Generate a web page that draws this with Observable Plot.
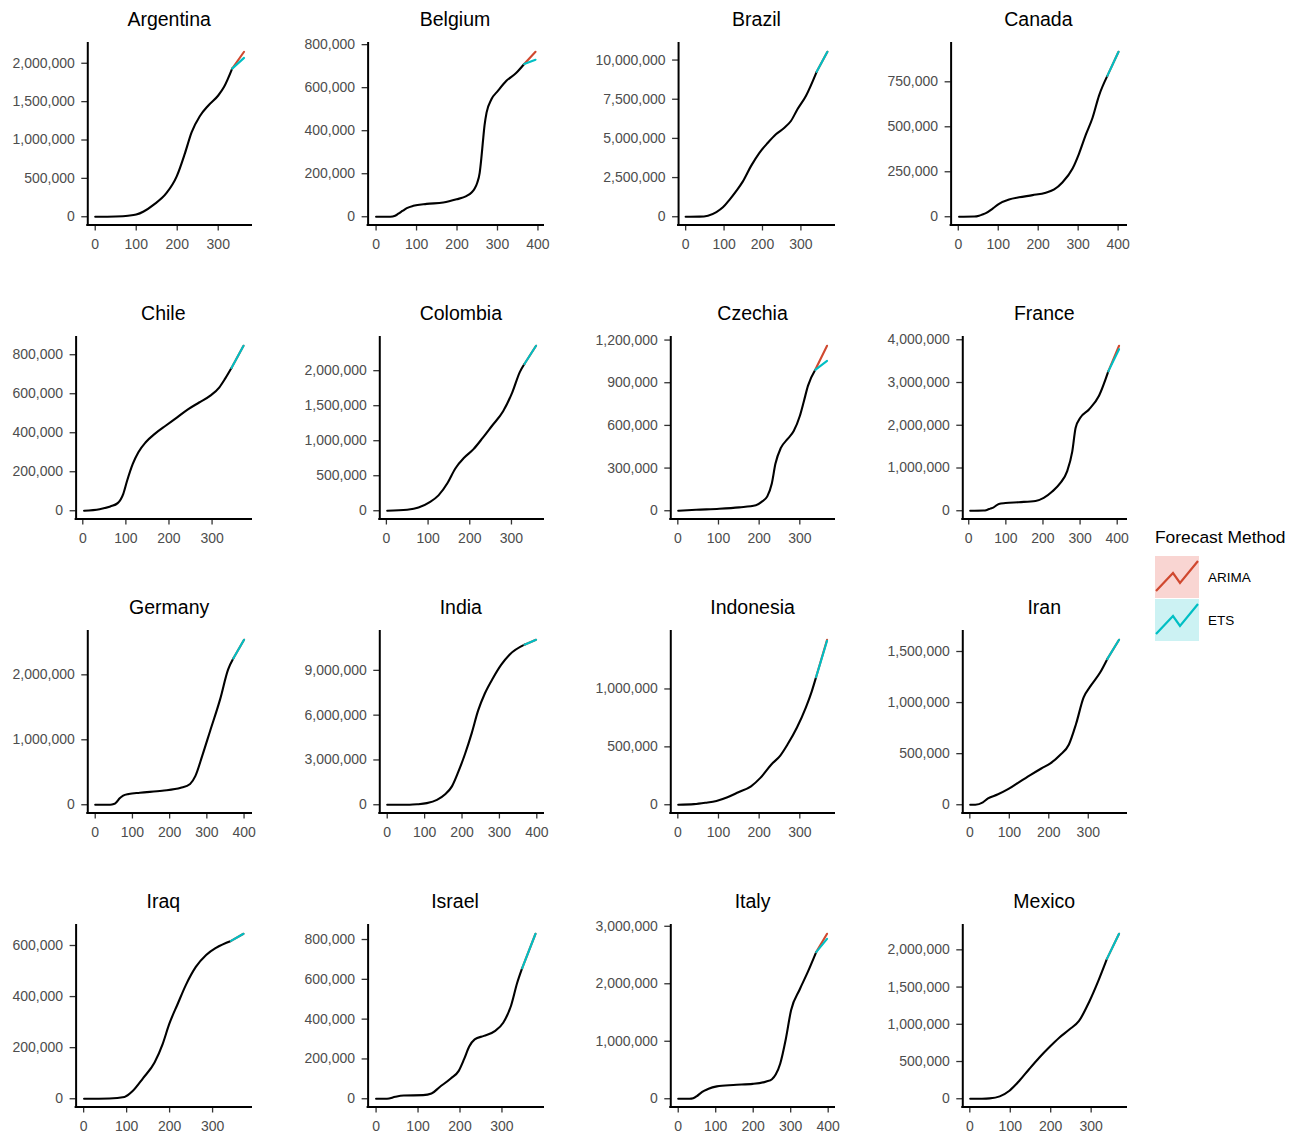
<!DOCTYPE html>
<html><head><meta charset="utf-8">
<script src="https://cdn.jsdelivr.net/npm/d3@7"></script>
<script src="https://cdn.jsdelivr.net/npm/@observablehq/plot@0.6"></script>
<style>
body{margin:0;background:#fff;font-family:Arial,"Liberation Sans",sans-serif;}
#root{position:relative;width:1303px;height:1133px;overflow:hidden;background:#fff;}
.panel{position:absolute;}
.ptitle{position:absolute;font-size:19.5px;color:#000;white-space:nowrap;transform:translate(-50%,-50%);line-height:1;}
.legend{position:absolute;left:1155px;top:529px;font-family:Arial,"Liberation Sans",sans-serif;}
.legend .lt{font-size:17.4px;color:#000;line-height:1;margin-bottom:9px;white-space:nowrap;}
.legend .row{display:flex;align-items:center;height:43.5px;}
.legend .row span{font-size:13.5px;color:#000;margin-left:9px;}
</style></head><body><div id="root"></div>
<script>
const countries = ["Argentina","Belgium","Brazil","Canada","Chile","Colombia","Czechia","France","Germany","India","Indonesia","Iran","Iraq","Israel","Italy","Mexico"];

const argentinaDay   = [0, 50, 80, 100, 118, 142, 174, 199, 219, 235, 255, 276, 300, 314, 334];
const argentinaCases = [0, 4000, 13000, 28000, 68000, 155000, 310000, 530000, 830000, 1100000, 1310000, 1450000, 1580000, 1690000, 1930000];

const belgiumDay   = [0, 35, 47, 55, 66, 76, 92, 125, 166, 199, 223, 236, 244, 250, 256, 260, 264, 268, 273, 285, 301, 322, 346, 366];
const belgiumCases = [0, 0, 4700, 14000, 28000, 40000, 51000, 60000, 66000, 81000, 96000, 113000, 132000, 158000, 204000, 270000, 350000, 425000, 484000, 546000, 585000, 632000, 668000, 710000];

const brazilDay   = [0, 36, 58, 80, 97, 114, 131, 149, 170, 192, 214, 235, 257, 274, 291, 313, 341];
const brazilCases = [0, 10000, 70000, 300000, 600000, 1080000, 1620000, 2260000, 3230000, 4080000, 4720000, 5260000, 5680000, 6110000, 6860000, 7710000, 9250000];

const canadaDay   = [2, 40, 52, 60, 69, 86, 102, 127, 152, 186, 219, 240, 261, 286, 302, 319, 336, 352, 373];
const canadaCases = [0, 1000, 5600, 12000, 20000, 45000, 72000, 96000, 108000, 120000, 134000, 152000, 192000, 268000, 350000, 455000, 550000, 672000, 783000];

const chileDay   = [3, 39, 64, 81, 94, 103, 116, 129, 146, 167, 193, 219, 244, 270, 296, 317, 330, 345];
const chileCases = [0, 8000, 22000, 39000, 87000, 155000, 240000, 300000, 351000, 394000, 437000, 479000, 520000, 555000, 590000, 633000, 676000, 732000];

const colombiaDay   = [2, 50, 77, 103, 125, 147, 165, 187, 209, 231, 253, 280, 302, 320, 331];
const colombiaCases = [0, 15000, 45000, 120000, 220000, 400000, 600000, 760000, 880000, 1040000, 1210000, 1420000, 1690000, 1980000, 2095000];

const czechiaDay   = [1, 45, 102, 151, 192, 206, 220, 231, 240, 253, 269, 285, 300, 310, 320, 338];
const czechiaCases = [0, 7000, 14000, 24000, 38000, 62000, 101000, 190000, 330000, 440000, 501000, 560000, 666000, 770000, 878000, 991000];

const franceDay   = [4, 40, 49, 58, 67, 81, 99, 135, 180, 202, 225, 247, 265, 279, 288, 301, 324, 351, 376];
const franceCases = [0, 5000, 20000, 50000, 80000, 160000, 180000, 200000, 230000, 300000, 450000, 650000, 920000, 1390000, 1940000, 2180000, 2370000, 2690000, 3260000];

const germanyDay   = [0, 40, 50, 57, 65, 75, 90, 120, 180, 230, 255, 269, 288, 309, 336, 357, 371];
const germanyCases = [0, 0, 10000, 40000, 95000, 140000, 165000, 185000, 215000, 260000, 320000, 440000, 760000, 1140000, 1630000, 2080000, 2250000];

const indiaDay   = [0, 60, 80, 106, 133, 155, 173, 190, 208, 226, 243, 261, 283, 305, 327, 367];
const indiaCases = [0, 1000, 30000, 110000, 330000, 700000, 1230000, 2200000, 3400000, 4800000, 6300000, 7450000, 8490000, 9380000, 10050000, 10720000];

const indonesiaDay   = [1, 40, 68, 95, 122, 149, 180, 203, 230, 252, 270, 293, 315, 329, 340];
const indonesiaCases = [0, 5000, 17000, 33000, 65000, 108000, 159000, 232000, 348000, 425000, 522000, 667000, 841000, 975000, 1102000];

const iranDay   = [1, 14, 33, 46, 70, 98, 125, 153, 181, 204, 228, 251, 269, 288, 306, 330, 348];
const iranCases = [0, 0, 23000, 62000, 100000, 155000, 222000, 290000, 355000, 405000, 485000, 590000, 790000, 1048000, 1163000, 1294000, 1425000];

const iraqDay   = [1, 60, 95, 114, 138, 165, 184, 199, 219, 238, 261, 285, 308, 343];
const iraqCases = [0, 1000, 7000, 30000, 80000, 142000, 215000, 292000, 372000, 446000, 516000, 563000, 591000, 618000];

const israelDay   = [0, 26, 46, 66, 112, 132, 151, 178, 197, 210, 222, 235, 257, 283, 303, 322, 336, 348];
const israelCases = [0, 0, 10000, 16000, 18000, 26000, 58000, 102000, 140000, 200000, 262000, 298000, 316000, 340000, 382000, 470000, 580000, 655000];

const italyDay   = [0, 30, 40, 50, 59, 70, 81, 103, 147, 199, 235, 250, 260, 272, 287, 301, 324, 346, 368];
const italyCases = [0, 1000, 10000, 47000, 95000, 140000, 175000, 215000, 240000, 258000, 300000, 340000, 420000, 610000, 1040000, 1540000, 1900000, 2210000, 2550000];

const mexicoDay   = [1, 30, 49, 74, 98, 123, 147, 172, 197, 221, 246, 270, 295, 319, 339];
const mexicoCases = [0, 1000, 5000, 32000, 108000, 245000, 400000, 555000, 695000, 820000, 930000, 1045000, 1300000, 1600000, 1878000];

// forecast horizon end (day) and forecast values at that day
const forecastEndDay = [363, 394, 369, 401, 373, 359, 367, 405, 400, 398, 367, 378, 372, 380, 397, 369];
const arimaEnd = [2150000, 767000, 10530000, 917000, 846000, 2356000, 1160000, 3860000, 2540000, 11050000, 1425000, 1615000, 646000, 829000, 2870000, 2216000];
const etsEnd   = [2070000, 730000, 10530000, 917000, 846000, 2356000, 1054000, 3780000, 2540000, 11050000, 1416000, 1615000, 646000, 829000, 2780000, 2216000];

// y-axis tick step per panel
const yTickStep = [500000, 200000, 2500000, 250000, 200000, 500000, 300000, 1000000, 1000000, 3000000, 500000, 500000, 200000, 200000, 1000000, 500000];
const xTickValues = [0, 100, 200, 300, 400];

const seriesDays  = [argentinaDay, belgiumDay, brazilDay, canadaDay, chileDay, colombiaDay, czechiaDay, franceDay, germanyDay, indiaDay, indonesiaDay, iranDay, iraqDay, israelDay, italyDay, mexicoDay];
const seriesCases = [argentinaCases, belgiumCases, brazilCases, canadaCases, chileCases, colombiaCases, czechiaCases, franceCases, germanyCases, indiaCases, indonesiaCases, iranCases, iraqCases, israelCases, italyCases, mexicoCases];

const ARIMA_COLOR = "#D0482F";
const ETS_COLOR = "#00BFC4";
const FONT = "Arial, 'Liberation Sans', sans-serif";

const root = document.getElementById("root");
const ctx = document.createElement("canvas").getContext("2d");
ctx.font = "14px " + FONT;
const fmt = d3.format(",");

const cellW = 291.7, rowPitch = 293.9, axisY0 = 224.8, plotH = 181.5, axisRight = 251;
const mTop = 10, mBottom = 34;

countries.forEach((name, i) => {
  const c = i % 4, r = Math.floor(i / 4);
  const days = seriesDays[i], cases = seriesCases[i];
  const hist = days.map((d, k) => ({day: d, cases: cases[k]}));
  const last = hist[hist.length - 1];
  const arima = [last, {day: forecastEndDay[i], cases: arimaEnd[i]}];
  const ets = [last, {day: forecastEndDay[i], cases: etsEnd[i]}];

  const allX = [...days, forecastEndDay[i]];
  const allY = [...cases, arimaEnd[i], etsEnd[i]];
  const [x0, x1] = d3.extent(allX), [y0, y1] = d3.extent(allY);
  const xs = x1 - x0, ys = y1 - y0;
  const xDom = [x0 - 0.05 * xs, x1 + 0.05 * xs];
  const yDom = [y0 - 0.05 * ys, y1 + 0.05 * ys];
  const yTicks = d3.range(0, yDom[1], yTickStep[i]);
  const xTicks = xTickValues.filter(v => v >= xDom[0] && v <= xDom[1]);

  const labW = d3.max(yTicks, t => ctx.measureText(fmt(t)).width);
  const ml = 12 + labW + 13;

  const cellX = c * cellW;
  const axisY = axisY0 + r * rowPitch;
  const top = axisY - plotH;
  const W = Math.round(cellW);

  const chart = Plot.plot({
    width: W, height: plotH + mTop + mBottom,
    marginLeft: ml, marginRight: W - axisRight, marginTop: mTop, marginBottom: mBottom,
    style: {fontFamily: FONT, fontSize: "14px", color: "#4D4D4D", background: "transparent", overflow: "visible"},
    x: {domain: xDom, label: null},
    y: {domain: yDom, label: null},
    marks: [
      Plot.axisX({ticks: xTicks, tickSize: 6, tickPadding: 8, tickFormat: d => String(d), label: null, stroke: "#333", strokeWidth: 1.3, fill: "#4D4D4D"}),
      Plot.axisY({ticks: yTicks, tickSize: 6, tickPadding: 7, tickFormat: fmt, label: null, stroke: "#333", strokeWidth: 1.3, fill: "#4D4D4D"}),
      Plot.line(hist, {x: "day", y: "cases", curve: "monotone-x", stroke: "black", strokeWidth: 2.1}),
      Plot.line(arima, {x: "day", y: "cases", stroke: ARIMA_COLOR, strokeWidth: 2.1}),
      Plot.line(ets, {x: "day", y: "cases", stroke: ETS_COLOR, strokeWidth: 2.1}),
      Plot.ruleX([xDom[0]], {stroke: "black", strokeWidth: 2, strokeLinecap: "square"}),
      Plot.ruleY([yDom[0]], {stroke: "black", strokeWidth: 2, strokeLinecap: "square"})
    ]
  });
  const wrap = document.createElement("div");
  wrap.className = "panel";
  wrap.style.left = cellX + "px";
  wrap.style.top = (top - mTop) + "px";
  wrap.appendChild(chart);
  root.appendChild(wrap);

  const t = document.createElement("div");
  t.className = "ptitle";
  t.textContent = name;
  t.style.left = (cellX + (ml + axisRight) / 2) + "px";
  t.style.top = (top - 23) + "px";
  root.appendChild(t);
});

// legend
const methods = ["ARIMA", "ETS"];
const methodColors = [ARIMA_COLOR, ETS_COLOR];
const methodFill = ["#F9D5D2", "#CCF2F3"];
const leg = document.createElement("div");
leg.className = "legend";
const lt = document.createElement("div");
lt.className = "lt";
lt.textContent = "Forecast Method";
leg.appendChild(lt);
methods.forEach((m, k) => {
  const row = document.createElement("div");
  row.className = "row";
  const svg = d3.create("svg").attr("width", 44).attr("height", 43).style("display", "block");
  svg.append("rect").attr("width", 44).attr("height", 42).attr("fill", methodFill[k]);
  svg.append("polyline").attr("points", "1,35 18,17 25,27 43,5")
    .attr("fill", "none").attr("stroke", methodColors[k]).attr("stroke-width", 2.2);
  row.appendChild(svg.node());
  const s = document.createElement("span");
  s.textContent = m;
  row.appendChild(s);
  leg.appendChild(row);
});
root.appendChild(leg);
</script></body></html>
